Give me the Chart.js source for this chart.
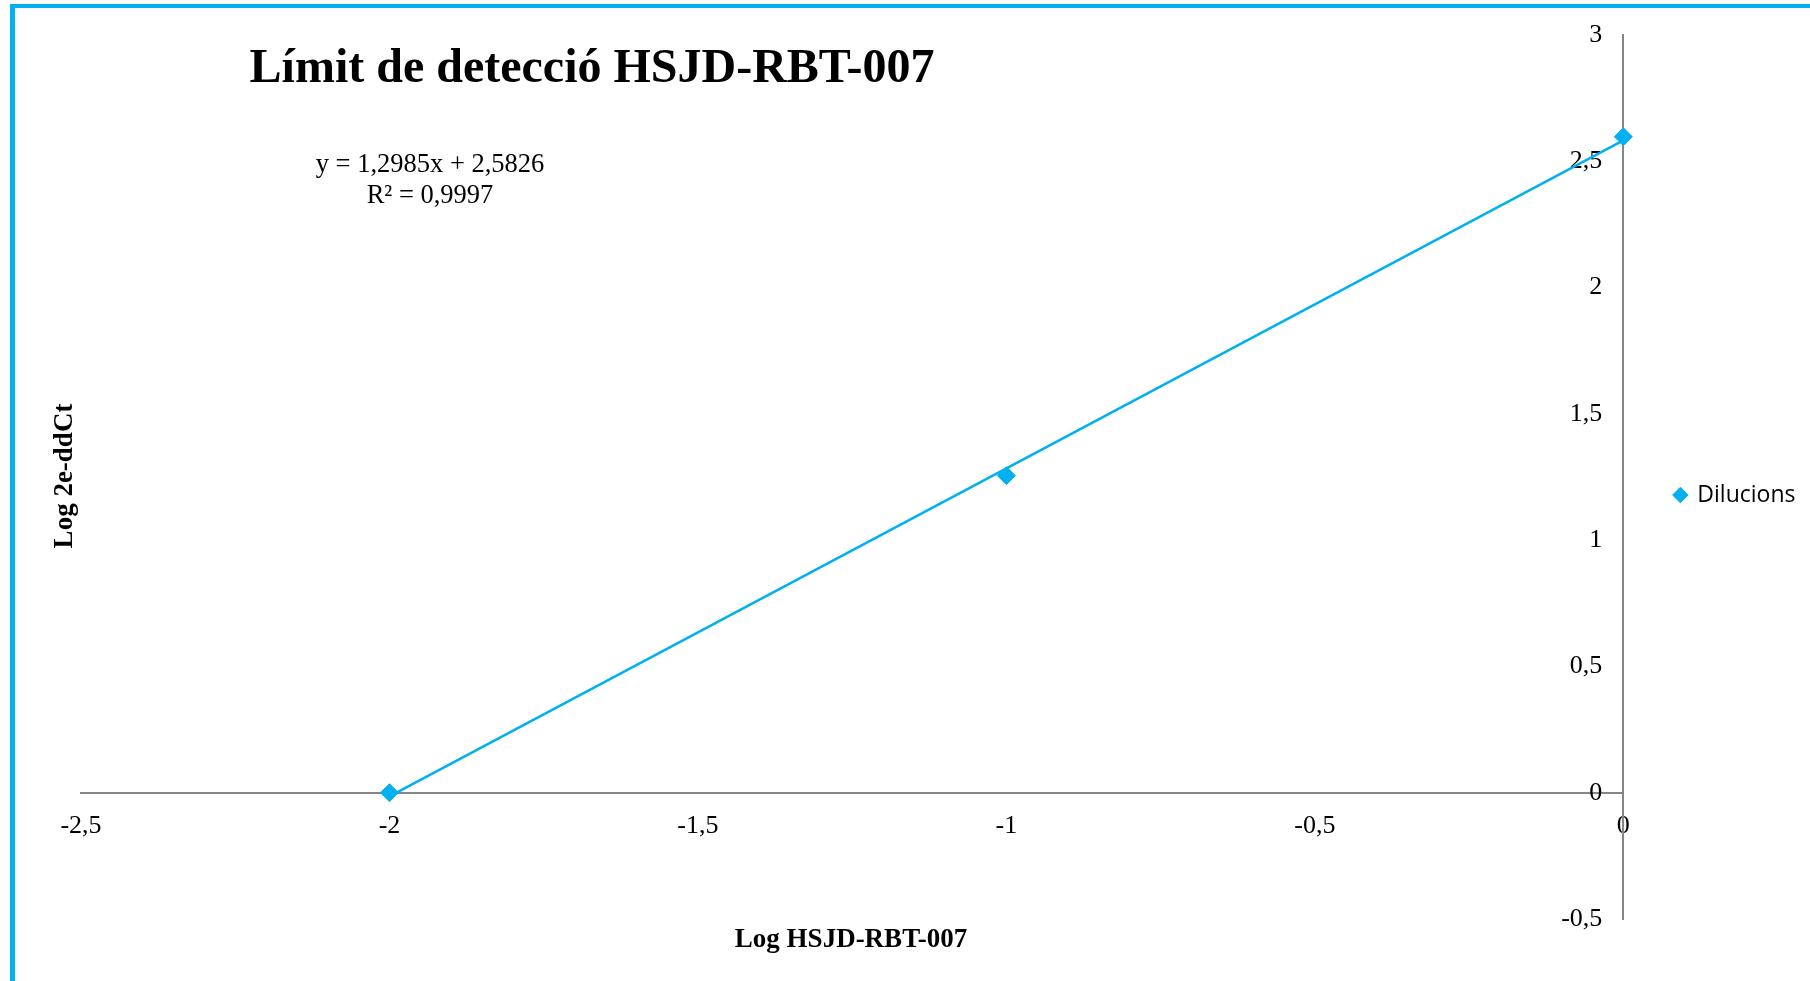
<!DOCTYPE html>
<html>
<head>
<meta charset="utf-8">
<script src="https://cdn.jsdelivr.net/npm/chart.js"></script>
<style>
  html, body { margin: 0; padding: 0; background: #fff; }
  #wrap { position: relative; width: 1810px; height: 981px; overflow: hidden; }
  #frame {
    position: absolute; left: 10px; top: 4px; right: -10px; bottom: -10px;
    border-top: 4px solid #00B0F0; border-left: 5px solid #00B0F0;
    pointer-events: none;
  }
  canvas { position: absolute; left: 0; top: 0; }
</style>
</head>
<body>
<div id="wrap">
  <canvas id="limitChart" width="1810" height="981"></canvas>
  <div id="frame"></div>
</div>
<script>
// dilution series (log scale on both axes)
var seriesName = 'Dilucions'
var logDilution = [-2, -1, 0]
var logSignal = [0, 1.2553, 2.597]

// axis ticks
var xTickValues = [-2.5, -2, -1.5, -1, -0.5, 0]
var yTickValues = [-0.5, 0, 0.5, 1, 1.5, 2, 2.5, 3]

// linear trendline as reported by the fit
var trendSlope = 1.2985
var trendIntercept = 2.5826
var trendR2 = 0.9997
var trendRange = [-2, 0]

var chartTitle = 'Límit de detecció HSJD-RBT-007'
var xTitle = 'Log HSJD-RBT-007'
var yTitle = 'Log 2e-ddCt'

var blue = '#00B0F0'
var axisGrey = '#868686'
var serif = '"Liberation Serif", "Times New Roman", serif'

var comma = function(v){
  return String(v).replace('.', ',')
}

var trendPoints = trendRange.map(function(x){
  return {x: x, y: trendSlope * x + trendIntercept}
})
var seriesPoints = logDilution.map(function(x, i){
  return {x: x, y: logSignal[i]}
})

var setTicks = function(values){
  return function(scale){
    scale.ticks = values.map(function(v){ return {value: v} })
  }
}

// title, equation and axis titles sit inside the plot frame
var chartText = {
  id: 'chartText',
  afterDraw: function(chart){
    var ctx = chart.ctx
    ctx.save()
    ctx.fillStyle = '#000'
    ctx.textBaseline = 'alphabetic'
    ctx.textAlign = 'center'

    ctx.font = 'bold 48px ' + serif
    ctx.fillText(chartTitle, 592, 82)

    ctx.font = '26.5px ' + serif
    ctx.fillText('y = ' + comma(trendSlope) + 'x + ' + comma(trendIntercept), 430, 172)
    ctx.fillText('R² = ' + comma(trendR2), 430, 203)

    ctx.font = 'bold 27px ' + serif
    ctx.fillText(xTitle, 851, 947)

    ctx.translate(72, 476)
    ctx.rotate(-Math.PI / 2)
    ctx.fillText(yTitle, 0, 0)
    ctx.restore()
  }
}

var graphContainer = document.getElementById('limitChart')
var limitChart = new Chart(graphContainer, {
  type: 'scatter',
  data: {
    datasets: [
      {
        label: seriesName,
        data: seriesPoints,
        pointStyle: 'rectRot',
        pointRadius: 9,
        pointHoverRadius: 9,
        backgroundColor: blue,
        borderColor: blue,
        borderWidth: 1,
        clip: false
      },
      {
        label: 'trend',
        type: 'line',
        data: trendPoints,
        showLine: true,
        borderColor: blue,
        borderWidth: 2.5,
        pointRadius: 0,
        fill: false,
        clip: false
      }
    ]
  },
  options: {
    responsive: false,
    animation: false,
    layout: {padding: {left: 81, top: 35, right: 4.5, bottom: 62}},
    scales: {
      x: {
        type: 'linear',
        position: {y: 0},
        min: xTickValues[0],
        max: xTickValues[xTickValues.length - 1],
        afterBuildTicks: setTicks(xTickValues),
        grid: {display: false, drawTicks: false},
        border: {display: true, color: axisGrey, width: 2},
        ticks: {
          padding: 18,
          maxRotation: 0,
          autoSkip: false,
          color: '#000',
          font: {family: serif, size: 26},
          callback: function(v){ return comma(v) }
        }
      },
      y: {
        type: 'linear',
        position: 'right',
        min: yTickValues[0],
        max: yTickValues[yTickValues.length - 1],
        afterBuildTicks: setTicks(yTickValues),
        afterFit: function(scale){ scale.width = 41.5 },
        grid: {display: false, drawTicks: false},
        border: {display: true, color: axisGrey, width: 2},
        ticks: {
          mirror: true,
          padding: -21,
          color: '#000',
          font: {family: serif, size: 26},
          callback: function(v){ return comma(v) }
        }
      }
    },
    plugins: {
      tooltip: {enabled: false},
      legend: {
        position: 'right',
        // empty title only pushes the single entry down a little
        title: {display: true, text: ' ', padding: 0, font: {size: 30}},
        labels: {
          usePointStyle: true,
          boxWidth: 11,
          boxHeight: 11,
          padding: 10,
          color: '#000',
          font: {family: '"Open Sans", sans-serif', size: 23},
          filter: function(item){ return item.datasetIndex === 0 }
        }
      }
    }
  },
  plugins: [chartText]
})
</script>
</body>
</html>
